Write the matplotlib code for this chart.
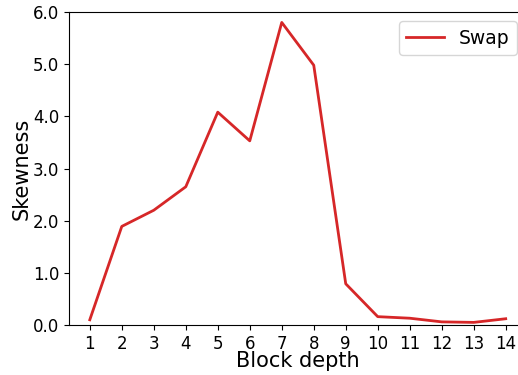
import matplotlib
matplotlib.use("Agg")
import matplotlib.pyplot as plt
from matplotlib.ticker import FormatStrFormatter

# Skewness per block depth
depths = [1, 2, 3, 4, 5, 6, 7, 8, 9, 10, 11, 12, 13, 14]
swap_skew = [0.10, 1.89, 2.20, 2.65, 4.08, 3.53, 5.80, 4.98, 0.79, 0.16, 0.13, 0.06, 0.05, 0.12]

fig = plt.figure(figsize=(5.18, 3.75), dpi=100)
ax = fig.add_axes([69 / 518, 50 / 375, 457.5 / 518, 313 / 375])

ax.plot(depths, swap_skew, color='#d62728', linewidth=2, label='Swap')

ax.set_xlim(0.35, 14.65)
ax.set_ylim(0, 6)
ax.set_xticks(depths)
ax.yaxis.set_major_formatter(FormatStrFormatter('%.1f'))
ax.tick_params(labelsize=12)
ax.set_xlabel('Block depth', fontsize=15, labelpad=-1)
ax.set_ylabel('Skewness', fontsize=15, labelpad=1)
ax.legend(loc='upper right', fontsize=13.5, borderaxespad=0,
          bbox_to_anchor=(517 / 518, 1 - 21 / 375), bbox_transform=fig.transFigure)

fig.savefig('out.png', dpi=100)
